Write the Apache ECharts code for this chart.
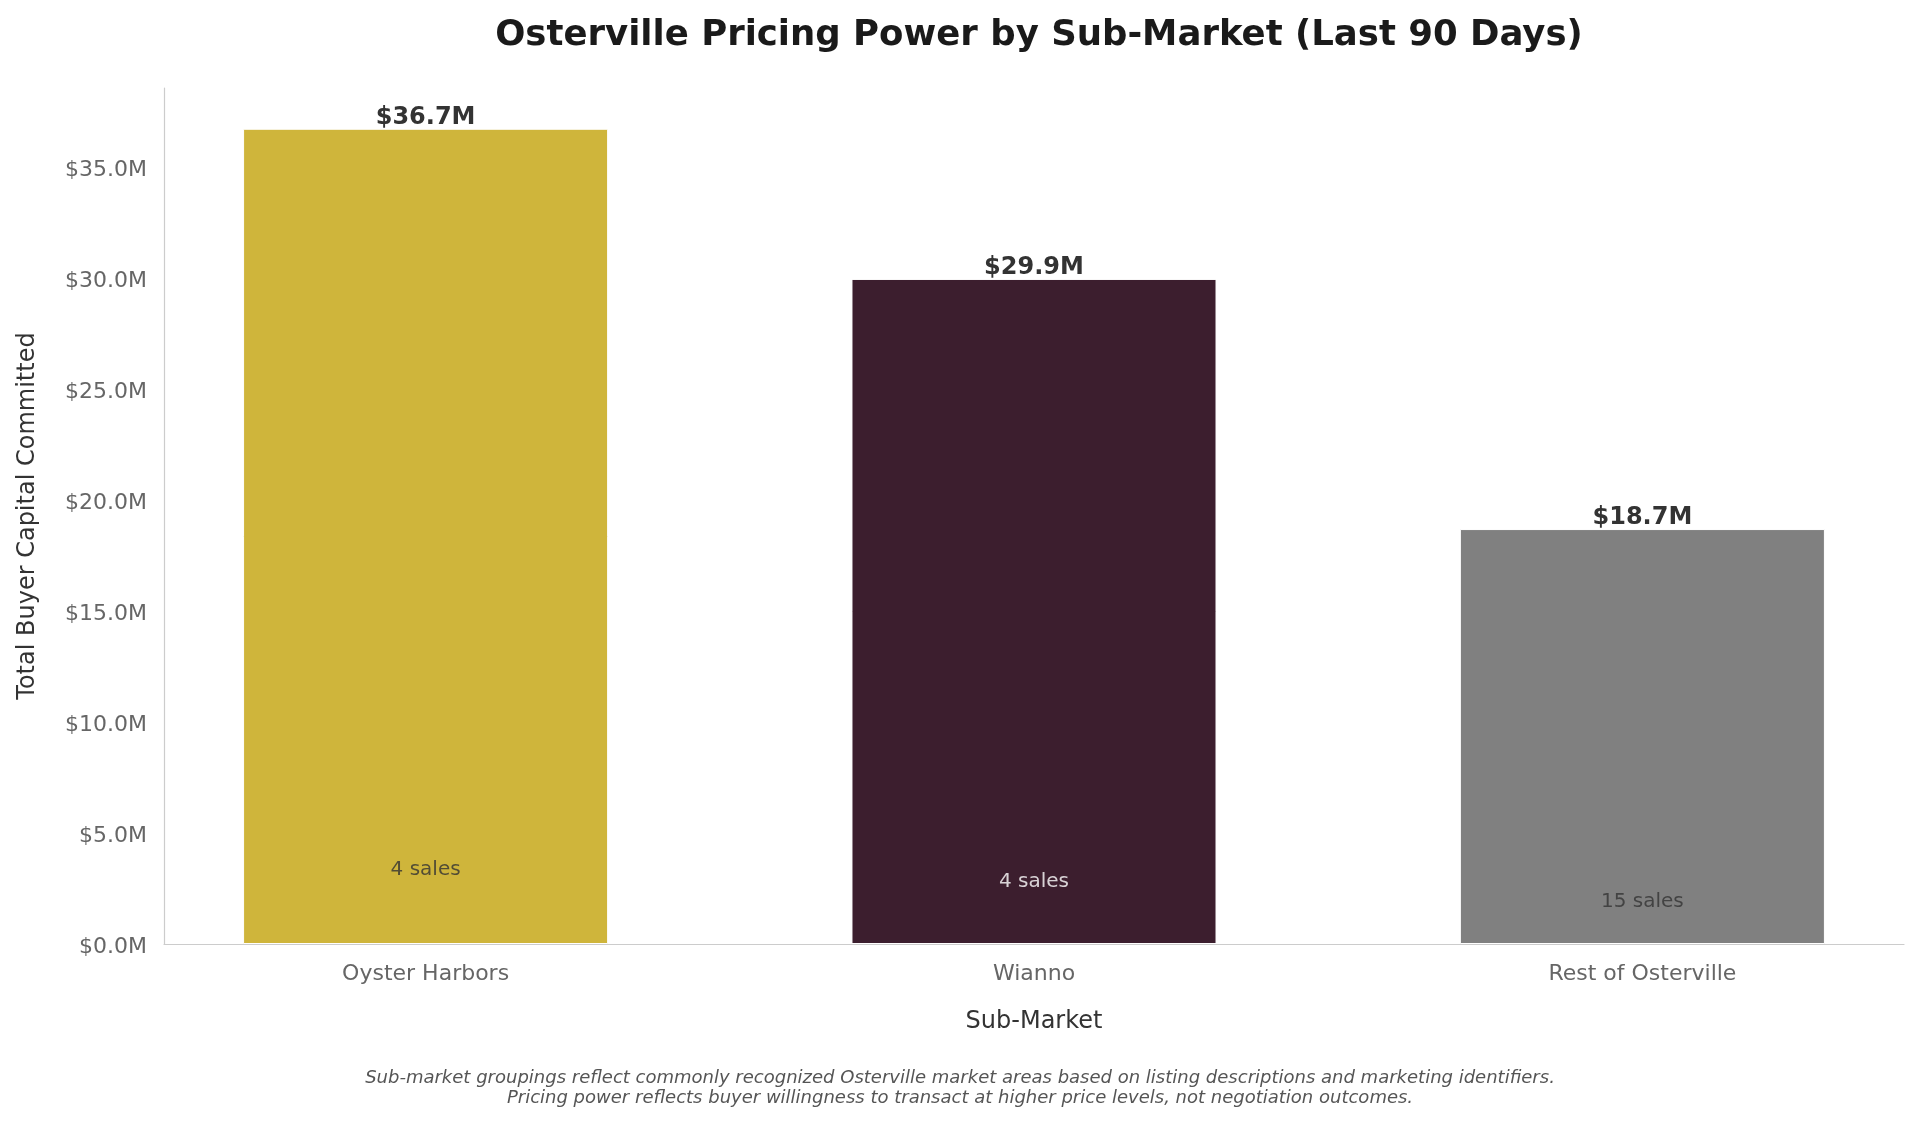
<!DOCTYPE html>
<html>
<head>
<meta charset="utf-8">
<script src="https://cdn.jsdelivr.net/npm/echarts@6/dist/echarts.min.js"></script>
<style>
html,body{margin:0;padding:0;background:#fff;}
#chart{width:1920px;height:1123px;}
</style>
</head>
<body>
<div id="chart"></div>
<script>
// ---- data ----
var categories = ['Oyster Harbors', 'Wianno', 'Rest of Osterville'];
var capitalValues = [36.7e6, 29.94e6, 18.68e6];
var salesCounts = [4, 4, 15];
var yTickValues = [0, 5e6, 10e6, 15e6, 20e6, 25e6, 30e6, 35e6];
var footnoteLines = [
  'Sub-market groupings reflect commonly recognized Osterville market areas based on listing descriptions and marketing identifiers.',
  'Pricing power reflects buyer willingness to transact at higher price levels, not negotiation outcomes.'
];

// ---- styles ----
var barColors = ['#CFB53B', '#3C1E2E', '#808080'];
var countLabelColors = ['#333333', '#ffffff', '#333333'];
var FONT = 'DejaVu Sans';
var gridLeft = 164, gridRight = 16, gridTop = 88, gridBottom = 179;
var xMin = -0.43, xMax = 2.43;
var yMax = 36.7e6 * 1.05;
var gridWidth = 1920 - gridLeft - gridRight;
var barWidthPx = 0.6 * gridWidth / (xMax - xMin);

var chart = echarts.init(document.getElementById('chart'), null, {renderer: 'canvas'});

var barData = capitalValues.map(function (v, i) {
  return {value: [i, v], itemStyle: {color: barColors[i]}};
});
var countData = salesCounts.map(function (c, i) {
  return {
    value: [i, capitalValues[i] * 0.08],
    count: c,
    label: {color: countLabelColors[i]}
  };
});

var option = {
  backgroundColor: '#ffffff',
  animation: false,
  title: {
    text: 'Osterville Pricing Power by Sub-Market (Last 90 Days)',
    left: gridLeft + gridWidth / 2,
    textAlign: 'center',
    top: 13,
    textStyle: {fontFamily: FONT, fontSize: 35.5, fontWeight: 'bold', color: '#1a1a1a'}
  },
  graphic: footnoteLines.map(function (t, i) {
    return {
      type: 'text',
      left: 'center',
      top: 1069 + i * 20,
      style: {
        text: t,
        font: 'italic 18px "DejaVu Sans"',
        fill: '#555555',
        textAlign: 'center'
      }
    };
  }),
  grid: {left: gridLeft, right: gridRight, top: gridTop, bottom: gridBottom, containLabel: false},
  xAxis: {
    type: 'value',
    min: xMin,
    max: xMax,
    name: 'Sub-Market',
    nameLocation: 'middle',
    nameGap: 66,
    nameTextStyle: {fontFamily: FONT, fontSize: 24, color: '#333333'},
    axisLine: {show: true, onZero: false, lineStyle: {color: '#cccccc', width: 1.2}},
    axisTick: {show: false, customValues: [0, 1, 2]},
    axisLabel: {
      customValues: [0, 1, 2],
      formatter: function (v) { return categories[Math.round(v)] || ''; },
      fontFamily: FONT, fontSize: 22, color: '#666666', margin: 19
    },
    splitLine: {show: false}
  },
  yAxis: {
    type: 'value',
    min: 0,
    max: yMax,
    name: 'Total Buyer Capital Committed',
    nameLocation: 'middle',
    nameGap: 124,
    nameTextStyle: {fontFamily: FONT, fontSize: 24, color: '#333333'},
    axisLine: {show: true, onZero: false, lineStyle: {color: '#cccccc', width: 1.2}},
    axisTick: {show: false},
    axisLabel: {
      customValues: yTickValues,
      formatter: function (v) { return '{t|$' + (v / 1e6).toFixed(1) + 'M}'; },
      margin: 17,
      rich: {
        t: {fontFamily: FONT, fontSize: 22, color: '#666666', padding: [7, 0, 0, 0]}
      }
    },
    splitLine: {show: false}
  },
  series: [
    {
      type: 'bar',
      data: barData,
      barWidth: barWidthPx,
      itemStyle: {borderColor: '#ffffff', borderWidth: 1},
      label: {
        show: true,
        position: 'top',
        distance: -1,
        formatter: function (p) { return '$' + (p.value[1] / 1e6).toFixed(1) + 'M'; },
        fontFamily: FONT, fontSize: 24, fontWeight: 'bold', color: '#333333'
      },
      z: 2
    },
    {
      type: 'scatter',
      data: countData,
      symbolSize: 0,
      silent: true,
      label: {
        show: true,
        position: 'top',
        distance: -1,
        formatter: function (p) { return p.data.count + ' sales'; },
        fontFamily: FONT, fontSize: 20
      },
      z: 3
    }
  ]
};
chart.setOption(option);
</script>
</body>
</html>
